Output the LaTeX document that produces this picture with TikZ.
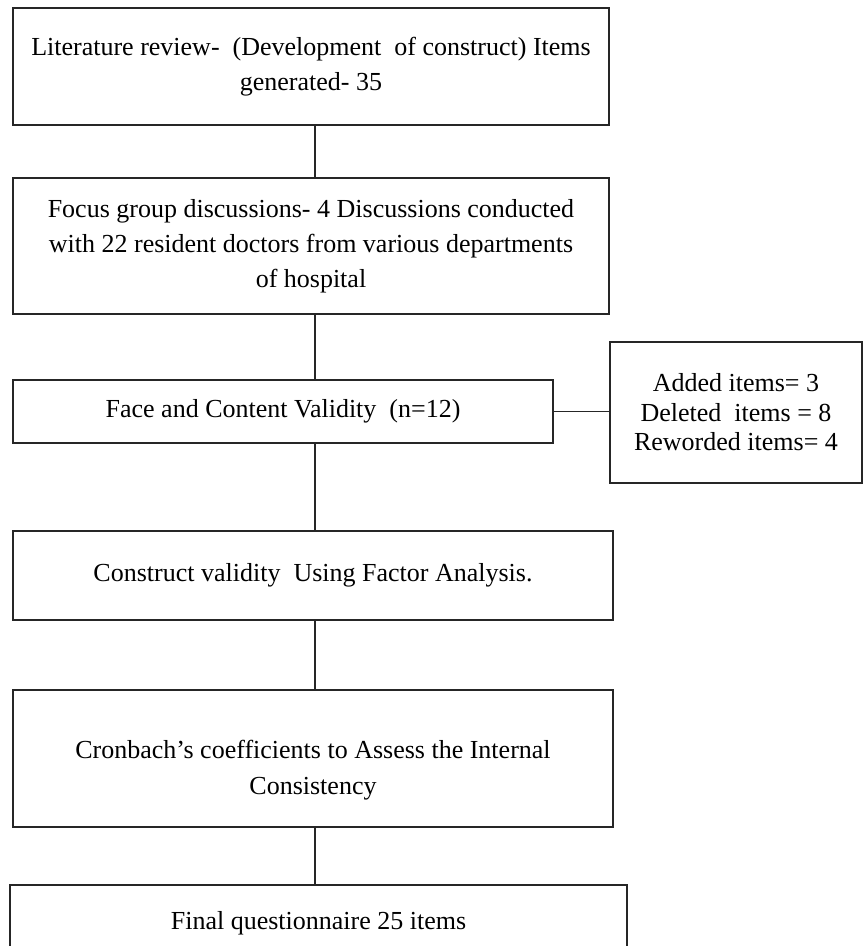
\documentclass[tikz,border=0pt]{standalone}
\usepackage{fontspec}
\setmainfont{Liberation Serif}
\begin{document}
\begin{tikzpicture}[x=1pt,y=-1pt,
  box/.style={draw=black!85, line width=1.3pt, inner sep=0pt, align=center,
    font=\fontsize{26}{35}\selectfont},
  txt/.style={inner sep=0pt, align=center, font=\fontsize{26}{36}\selectfont},
  conn/.style={draw=black!85, line width=1.3pt}]
\useasboundingbox (0,0) rectangle (864,946);
\node[box, minimum width=596, minimum height=117] (b1) at (311,66.5)
  {Literature review-\ \ (Development\ \ of construct) Items\\generated- 35};
\node[box, minimum width=596, minimum height=136] (b2) at (311,246)
  {Focus group discussions- 4 Discussions conducted\\with 22 resident doctors from various departments\\of hospital};
\node[box, minimum width=540, minimum height=63] (b3) at (283,411.5)
  {Face and Content Validity\ \ (n=12)};
\node[box, minimum width=252, minimum height=141, font=\fontsize{26}{29.5}\selectfont] (r) at (736,412.5)
  {Added items= 3\\Deleted\ \ items = 8\\Reworded items= 4};
\node[box, minimum width=600, minimum height=89] (b4) at (313,575.5)
  {Construct validity\ \ Using Factor Analysis.};
\node[box, minimum width=600, minimum height=137] (b5) at (313,758.5) {};
\node[txt] (t5) at ([yshift=-12]b5.center)
  {Cronbach’s coefficients to Assess the Internal\\Consistency};
\node[box, minimum width=617, minimum height=76] (b6) at (318.5,923)
  {Final questionnaire 25 items};
\coordinate (axis) at (315,0);
\draw[conn] (b1.south -| axis) -- (b2.north -| axis);
\draw[conn] (b2.south -| axis) -- (b3.north -| axis);
\draw[conn] (b3.east) -- (r.west |- b3.east);
\draw[conn] (b3.south -| axis) -- (b4.north -| axis);
\draw[conn] (b4.south -| axis) -- (b5.north -| axis);
\draw[conn] (b5.south -| axis) -- (b6.north -| axis);
\end{tikzpicture}
\end{document}
